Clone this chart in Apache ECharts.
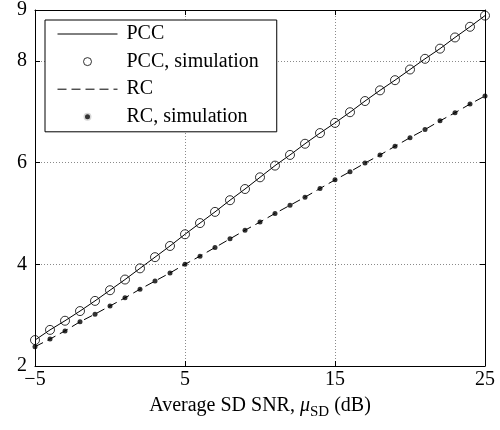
<!DOCTYPE html>
<html>
<head>
<meta charset="utf-8">
<script src="https://cdn.jsdelivr.net/npm/echarts@6/dist/echarts.min.js"></script>
<style>html,body{margin:0;padding:0;background:#fff}#c{width:500px;height:430px}</style>
</head>
<body>
<div id="c"></div>
<script>
// ---- data ----
const snr = [-5,-4,-3,-2,-1,0,1,2,3,4,5,6,7,8,9,10,11,12,13,14,15,16,17,18,19,20,21,22,23,24,25];
const pccAnalytic = [2.51,2.71,2.89,3.08,3.28,3.49,3.70,3.92,4.14,4.36,4.59,4.81,5.03,5.26,5.48,5.71,5.94,6.15,6.37,6.58,6.78,6.99,7.21,7.42,7.62,7.83,8.04,8.24,8.46,8.67,8.89];
const pccSim = [2.51,2.71,2.89,3.08,3.28,3.49,3.70,3.92,4.14,4.36,4.59,4.81,5.03,5.26,5.48,5.71,5.94,6.15,6.37,6.58,6.78,6.99,7.21,7.42,7.62,7.83,8.04,8.24,8.46,8.67,8.89];
const rcAnalytic = [2.38,2.53,2.69,2.87,3.02,3.18,3.34,3.51,3.67,3.83,4.00,4.16,4.33,4.50,4.67,4.83,5.00,5.16,5.32,5.49,5.66,5.82,5.99,6.15,6.32,6.49,6.65,6.82,6.98,7.15,7.31];
const rcSim = [2.38,2.53,2.69,2.87,3.02,3.18,3.34,3.51,3.67,3.83,4.00,4.16,4.33,4.50,4.67,4.83,5.00,5.16,5.32,5.49,5.66,5.82,5.99,6.15,6.32,6.49,6.65,6.82,6.98,7.15,7.31];
const xTicks = [-5,5,15,25];
const yTickLabels = [2,4,6,8,9];
const yTicks = [2,4,6,8];
const seriesNames = ['PCC','PCC, simulation','RC','RC, simulation'];

const FONT = 'Liberation Serif';
const pair = (xs, ys) => xs.map((x, i) => [x, ys[i]]);
const fmt = v => (v < 0 ? '\u2212' + Math.abs(v) : String(v));

const chart = echarts.init(document.getElementById('c'));
const grid = { left: 35, right: 15, top: 10, bottom: 64 };
const gridLine = { show: true, lineStyle: { color: '#8a8a8a', type: [1, 2], width: 1 } };
const axisLine = { show: true, onZero: false, lineStyle: { color: '#000', width: 1 } };
const hiddenSymbol = { color: 'rgba(0,0,0,0)', borderColor: 'rgba(0,0,0,0)', borderWidth: 0 };

chart.setOption({
  animation: false,
  backgroundColor: '#fff',
  grid: grid,
  legend: {
    left: 45, top: 20, orient: 'vertical',
    itemWidth: 60, itemHeight: 8, itemGap: 7.6,
    padding: [4, 18, 5, 12],
    borderColor: '#000', borderWidth: 1, backgroundColor: '#fff',
    lineStyle: { width: 1 },
    textStyle: { fontFamily: FONT, fontSize: 20, color: '#000', lineHeight: 19, padding: [0, 0, 0, 4] },
    data: [
      { name: seriesNames[0], itemStyle: hiddenSymbol },
      { name: seriesNames[1], icon: 'circle', itemStyle: { color: 'rgba(0,0,0,0)', borderColor: '#000', borderWidth: 1 } },
      { name: seriesNames[2], itemStyle: hiddenSymbol },
      { name: seriesNames[3], icon: 'circle', itemStyle: { color: '#000', borderColor: '#fff', borderWidth: 3 } }
    ]
  },
  xAxis: [{
    type: 'value', min: -5, max: 25, position: 'bottom',
    axisLine: axisLine,
    axisTick: { show: true, inside: true, length: 5, customValues: xTicks, lineStyle: { color: '#000' } },
    axisLabel: { customValues: xTicks, formatter: fmt, fontFamily: FONT, fontSize: 20, color: '#000', margin: 4 },
    splitLine: gridLine,
    name: '{a|Average SD SNR, }{i|\u03bc}{s|SD}{a| (dB)}',
    nameLocation: 'middle', nameGap: 26,
    nameTextStyle: {
      rich: {
        a: { fontFamily: FONT, fontSize: 20, color: '#000', lineHeight: 28 },
        i: { fontFamily: FONT, fontSize: 20, color: '#000', fontStyle: 'italic', lineHeight: 28 },
        s: { fontFamily: FONT, fontSize: 15, color: '#000', lineHeight: 15, verticalAlign: 'bottom' }
      }
    }
  }, {
    type: 'value', min: -5, max: 25, position: 'top',
    axisLine: axisLine,
    axisTick: { show: true, inside: true, length: 5, customValues: xTicks, lineStyle: { color: '#000' } },
    axisLabel: { show: false },
    splitLine: { show: false }
  }],
  yAxis: [{
    type: 'value', min: 2, max: 9, position: 'left',
    axisLine: axisLine,
    axisTick: { show: true, inside: true, length: 5, customValues: yTicks, lineStyle: { color: '#000' } },
    axisLabel: { customValues: yTickLabels, fontFamily: FONT, fontSize: 20, color: '#000', margin: 8 },
    splitLine: gridLine
  }, {
    type: 'value', min: 2, max: 9, position: 'right',
    axisLine: axisLine,
    axisTick: { show: true, inside: true, length: 5, customValues: yTicks, lineStyle: { color: '#000' } },
    axisLabel: { show: false },
    splitLine: { show: false }
  }],
  series: [
    {
      name: seriesNames[0], type: 'line', xAxisIndex: 0, yAxisIndex: 0,
      data: pair(snr, pccAnalytic), symbol: 'none',
      lineStyle: { color: '#000', width: 1 }, itemStyle: { color: '#000' }, z: 2
    },
    {
      name: seriesNames[1], type: 'scatter', xAxisIndex: 0, yAxisIndex: 0,
      data: pair(snr, pccSim), symbol: 'circle', symbolSize: 9,
      itemStyle: { color: 'rgba(0,0,0,0)', borderColor: '#000', borderWidth: 1 }, z: 3
    },
    {
      name: seriesNames[2], type: 'line', xAxisIndex: 0, yAxisIndex: 0,
      data: pair(snr, rcAnalytic), symbol: 'none',
      lineStyle: { color: '#000', width: 1, type: [9, 5] }, itemStyle: { color: '#000' }, z: 2
    },
    {
      name: seriesNames[3], type: 'scatter', xAxisIndex: 0, yAxisIndex: 0,
      data: pair(snr, rcSim), symbol: 'circle', symbolSize: 5,
      itemStyle: { color: '#000' }, z: 3
    }
  ]
});
</script>
</body>
</html>
